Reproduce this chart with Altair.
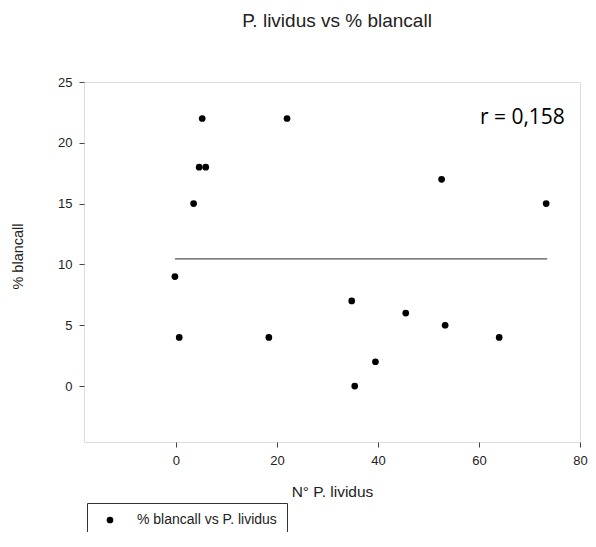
import altair as alt
import pandas as pd

# Data
lividus = [-0.2, 0.65, 3.5, 4.6, 5.9, 5.2, 18.4, 22.0, 34.8, 35.4, 39.5, 45.5, 52.6, 53.3, 64.0, 73.3]
blancall = [9, 4, 15, 18, 18, 22, 4, 22, 7, 0, 2, 6, 17, 5, 4, 15]
series_name = "% blancall vs P. lividus"

fit_x = [-0.2, 73.5]
fit_y = [10.45, 10.45]

note_x = [77.0]
note_y = [22.0]
note_text = ["r = 0,158"]

x_ticks = [0, 20, 40, 60, 80]
y_ticks = [0, 5, 10, 15, 20, 25]

pts = pd.DataFrame({"x": lividus, "y": blancall, "serie": [series_name] * len(lividus)})
fit = pd.DataFrame({"x": fit_x, "y": fit_y})
note = pd.DataFrame({"x": note_x, "y": note_y, "t": note_text})

FONT = "Liberation Sans"
TXT = "#222222"
AX = "#444444"

xscale = alt.Scale(domain=[-18.2, 80], nice=False, zero=False)
yscale = alt.Scale(domain=[-4.6, 25], nice=False, zero=False)

xaxis = alt.Axis(
    values=x_ticks, grid=False, domain=False, tickColor=AX, tickSize=5, tickWidth=1,
    labelFont=FONT, labelFontSize=13, labelColor=TXT, labelPadding=7, labelFlush=False,
    title="N° P. lividus", titleFont=FONT, titleFontSize=15.5, titleFontWeight="normal",
    titleColor=TXT, titleBaseline="alphabetic", titleY=54,
)
yaxis = alt.Axis(
    values=y_ticks, grid=False, domain=False, tickColor=AX, tickSize=5, tickWidth=1,
    labelFont=FONT, labelFontSize=13, labelColor=TXT, labelPadding=7,
    title="% blancall", titleFont=FONT, titleFontSize=14.5, titleFontWeight="normal",
    titleColor=TXT, titleBaseline="middle", titleX=-66, titleY=174,
)

points = alt.Chart(pts).mark_point(filled=True, opacity=1, size=45, shape="circle").encode(
    x=alt.X("x:Q", scale=xscale, axis=xaxis),
    y=alt.Y("y:Q", scale=yscale, axis=yaxis),
    color=alt.Color(
        "serie:N",
        scale=alt.Scale(range=["#000000"]),
        legend=alt.Legend(
            title=None, orient="none", legendX=3, legendY=421,
            strokeColor="#333333", padding=10, symbolType="circle", symbolSize=45,
            symbolOffset=6, labelOffset=20, labelFont=FONT, labelFontSize=14,
            labelColor=TXT, labelLimit=400,
        ),
    ),
)

line = alt.Chart(fit).mark_line(color="#555555", strokeWidth=1.2).encode(
    x=alt.X("x:Q", scale=xscale),
    y=alt.Y("y:Q", scale=yscale),
)

text = alt.Chart(note).mark_text(
    align="right", baseline="middle", font="Open Sans", fontSize=21, color="#000000"
).encode(
    x=alt.X("x:Q", scale=xscale),
    y=alt.Y("y:Q", scale=yscale),
    text="t:N",
)

chart = (
    alt.layer(line, points, text)
    .properties(
        width=496,
        height=360,
        autosize=alt.AutoSizeParams(type="none"),
        padding={"left": 76, "top": 74, "right": 8, "bottom": 90},
        title=alt.TitleParams(
            "P. lividus vs % blancall", font=FONT, fontSize=19, fontWeight="normal",
            color=TXT, anchor="middle", baseline="alphabetic", offset=30, dx=5,
        ),
    )
    .configure_view(stroke=AX, strokeWidth=1)
    .configure(background="white")
)

chart.save("out.html", embed_options={"renderer": "svg", "actions": False})
